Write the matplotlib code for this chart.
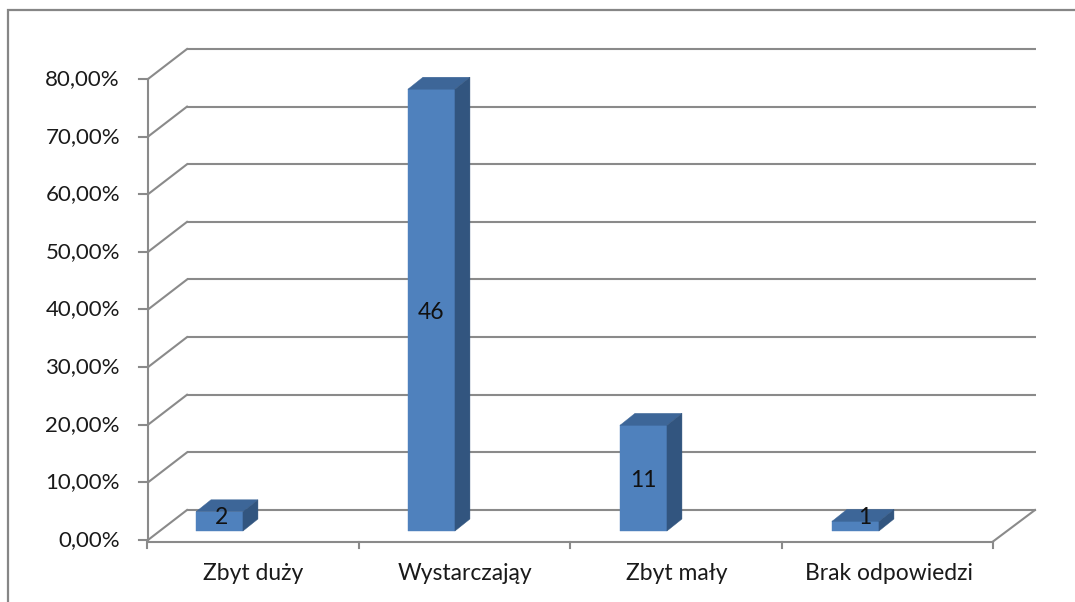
import matplotlib
matplotlib.use("Agg")
import matplotlib.pyplot as plt
from matplotlib.patches import Polygon, Rectangle

# ---- data ----
categories = ["Zbyt duży", "Wystarczająy", "Zbyt mały", "Brak odpowiedzi"]
counts = [2, 46, 11, 1]
total = 60
percent = [c / total * 100 for c in counts]
y_ticks = [0, 10, 20, 30, 40, 50, 60, 70, 80]
y_tick_labels = ["0,00%", "10,00%", "20,00%", "30,00%", "40,00%",
                 "50,00%", "60,00%", "70,00%", "80,00%"]

# ---- style ----
FONT = "Lato"
GRID = "#8a8a8a"
FRONT = "#4F81BD"
TOP = "#3D6698"
SIDE = "#32557F"
FS_Y = 16
FS_X = 16.5
FS_V = 16.5

W, H = 1075, 602
fig = plt.figure(figsize=(W / 100, H / 100), dpi=100)
ax = fig.add_axes([0, 0, 1, 1])
# front-plane mapping: pixel x = 148 + 212*x ; pixel y(from top) = 540 - 5.7625*y
ax.set_xlim(-148 / 212, (W - 148) / 212)
ax.set_ylim((540 - H) / 5.7625, 540 / 5.7625)
ax.axis("off")


def off(dx_px, dy_px):
    """pixel offset (x right, y up) -> data offset"""
    return dx_px / 212.0, dy_px / 5.7625


n_cat = len(categories)
ymax = y_ticks[-1]
back_dx, back_dy = off(39, 30)       # front plane -> back wall
bar_dx, bar_dy = off(11.7, 9)        # front plane -> bar front plane
dep_dx, dep_dy = off(15, 12)         # bar depth

# outer frame (extends past right/bottom edges), display coords
fr = Rectangle((8, -100), 1200, H - 10 + 100, transform=None, fill=False,
               edgecolor="#868686", linewidth=1.6, clip_on=False)
ax.add_artist(fr)

# back wall gridlines + left wall diagonals
for t, lab in zip(y_ticks, y_tick_labels):
    ax.plot([back_dx, n_cat + back_dx + off(1, 0)[0]], [t + back_dy, t + back_dy],
            color=GRID, lw=1.5, solid_capstyle="butt", zorder=1)
    ax.plot([0, back_dx], [t, t + back_dy], color=GRID, lw=1.5, zorder=1)
    ax.plot([off(-9, 0)[0], 0], [t, t], color=GRID, lw=1.5, zorder=1)
    ax.text(off(-28, 0)[0], t, lab, ha="right", va="center",
            fontsize=FS_Y, family=FONT, color="#1a1a1a")

# y axis line
ax.plot([0, 0], [off(0, -1.5)[1], ymax], color=GRID, lw=1.5, zorder=2)
# floor front edge and right diagonal
fy = off(0, -1.5)[1]
ax.plot([0, n_cat - off(3, 0)[0]], [fy, fy], color=GRID, lw=1.5, zorder=2)
ax.plot([n_cat - off(3, 0)[0], n_cat + back_dx], [fy, back_dy],
        color=GRID, lw=1.5, zorder=2)
# category ticks
for i in range(n_cat + 1):
    xi = i - off(1 + 0.5 * i, 0)[0]
    ax.plot([xi, xi], [fy, off(0, -7.5)[1]], color=GRID, lw=1.5, zorder=2)

# category labels
for i, c in enumerate(categories):
    ax.text(i + 0.5 - off(1, 0)[0], off(0, -33)[1], c, ha="center", va="center",
            fontsize=FS_X, family=FONT, color="#1a1a1a")

# bars
bw = 47 / 212.0
for i, (v, cnt) in enumerate(zip(percent, counts)):
    x0 = i + 0.171 + bar_dx
    x1 = x0 + bw
    y0 = bar_dy
    y1 = v + bar_dy
    front = Polygon([(x0, y0), (x1, y0), (x1, y1), (x0, y1)], closed=True,
                    facecolor=FRONT, edgecolor=FRONT, lw=0.3, zorder=5)
    top = Polygon([(x0, y1), (x1, y1), (x1 + dep_dx, y1 + dep_dy), (x0 + dep_dx, y1 + dep_dy)],
                  closed=True, facecolor=TOP, edgecolor=TOP, lw=0.3, zorder=5)
    side = Polygon([(x1, y0), (x1 + dep_dx, y0 + dep_dy), (x1 + dep_dx, y1 + dep_dy), (x1, y1)],
                   closed=True, facecolor=SIDE, edgecolor=SIDE, lw=0.3, zorder=5)
    for p in (front, top, side):
        ax.add_patch(p)
    xc = (x0 + x1) / 2
    yc = max((y0 + y1) / 2, y0 + off(0, 15)[1])
    if v < 2.5:
        xc += dep_dx * 0.6
    elif v < 5:
        xc += off(2, 0)[0]
    ax.text(xc, yc, str(cnt), ha="center", va="center_baseline", fontsize=FS_V,
            family=FONT, color="#111111", zorder=6)

fig.savefig("out.png", dpi=100)
